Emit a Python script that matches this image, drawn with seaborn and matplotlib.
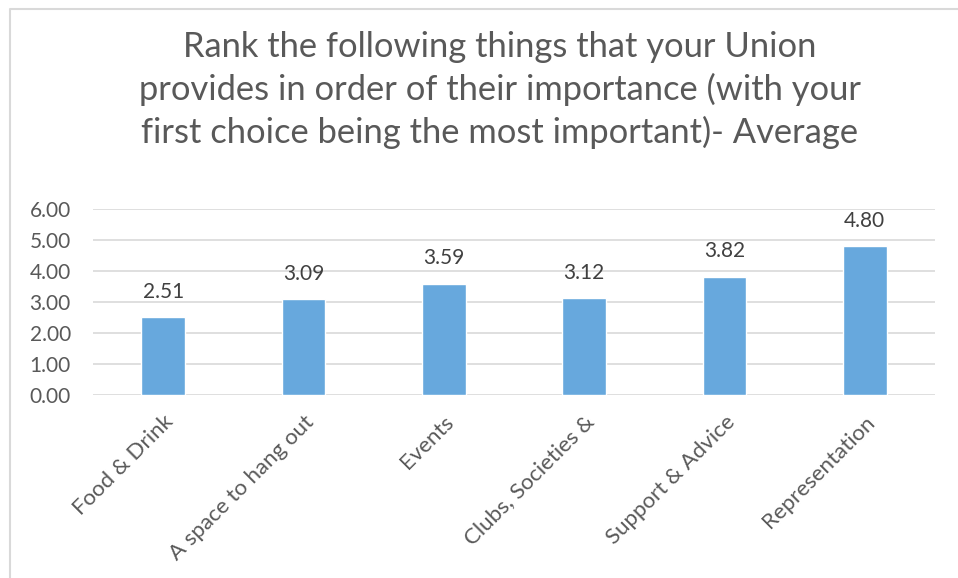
import matplotlib
matplotlib.use("Agg")
import matplotlib.pyplot as plt
from matplotlib.lines import Line2D
import seaborn as sns
import pandas as pd

categories = ["Food & Drink", "A space to hang out", "Events",
              "Clubs, Societies &", "Support & Advice", "Representation"]
averages = [2.51, 3.09, 3.59, 3.12, 3.82, 4.80]
y_ticks = [0, 1, 2, 3, 4, 5, 6]

title = ("Rank the following things that your Union\n"
         "provides in order of their importance (with your\n"
         "first choice being the most important)- Average")

sns.set_theme(style="white")
plt.rcParams["font.family"] = ["Lato", "DejaVu Sans"]

df = pd.DataFrame({"item": categories, "avg": averages})

W, H = 958, 578
fig = plt.figure(figsize=(W / 100, H / 100), dpi=100)
ax = fig.add_axes([93 / W, 1 - 395 / H, (935 - 93) / W, (395 - 209) / H])

sns.barplot(data=df, x="item", y="avg", color="#67A8DD", width=0.31,
            saturation=1, ax=ax, zorder=3)

ax.set_ylim(0, 6)
ax.set_xlim(-0.5, len(categories) - 0.5)
ax.set_yticks(y_ticks)
ax.set_yticklabels([f"{v:.2f}" for v in y_ticks])
ax.yaxis.grid(True, color="#D9D9D9", linewidth=1.2, zorder=0)
ax.set_axisbelow(True)
for s in ax.spines.values():
    s.set_visible(False)
ax.set_xlabel("")
ax.set_ylabel("")
ax.tick_params(axis="y", length=0, pad=16, labelsize=15, labelcolor="#595959")
ax.tick_params(axis="x", length=0, pad=12, labelsize=16, labelcolor="#595959")
for lab in ax.get_yticklabels():
    lab.set_horizontalalignment("right")
plt.setp(ax.get_xticklabels(), rotation=45, ha="right", rotation_mode="anchor")

for i, v in enumerate(averages):
    ax.annotate(f"{v:.2f}", (i, v), xytext=(0, 11), textcoords="offset points",
                ha="center", va="bottom", fontsize=15, color="#404040")

fig.text(500 / W, 1 - 90 / H, title, ha="center", va="center", fontsize=24.8,
         color="#595959", linespacing=1.38)

# chart-area border along the left and top edges
fig.add_artist(Line2D([10 / W, 10 / W, 1], [0, 1 - 9 / H, 1 - 9 / H],
                      transform=fig.transFigure, color="#D9D9D9", linewidth=1.5))

fig.savefig("out.png", dpi=100)
